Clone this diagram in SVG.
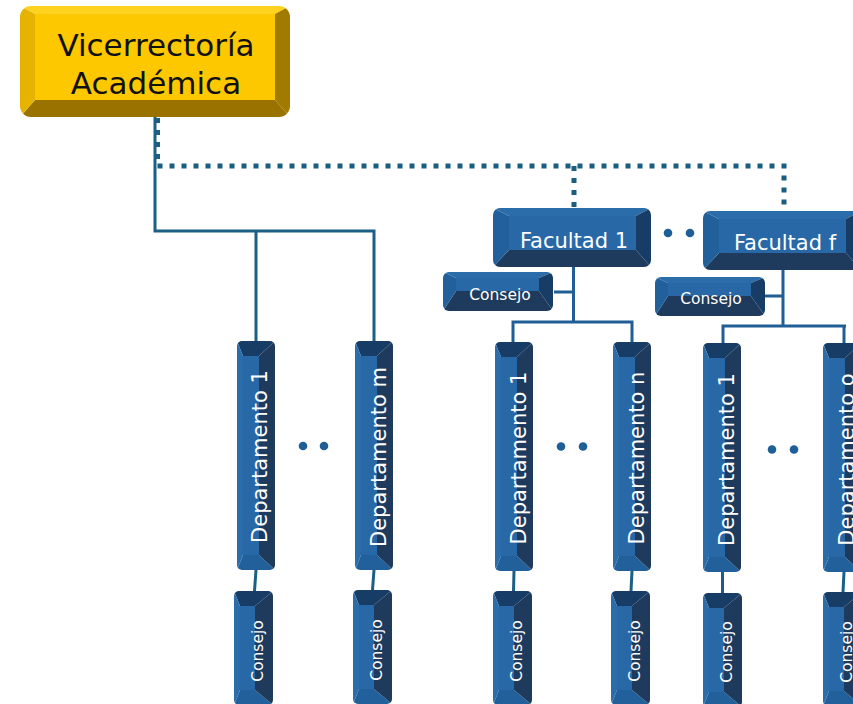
<svg xmlns="http://www.w3.org/2000/svg" xmlns:xlink="http://www.w3.org/1999/xlink" width="853" height="704" viewBox="0 0 853 704">
<style>
.c1{fill:#2b6cab}.c2{fill:#22609b}.c3{fill:#173d66}.c4{fill:#1e3b5d}.cf{fill:#2868a6}
.g1{fill:#ffd21f}.g2{fill:#e6b300}.g3{fill:#a07b00}.g4{fill:#9a7200}.gf{fill:#fdc800}
.t{font-family:"DejaVu Sans",Verdana,sans-serif;fill:#fff;text-anchor:middle}
.tg{font-family:"DejaVu Sans",Verdana,sans-serif;fill:#111;text-anchor:middle;font-size:31px}
.tf{font-size:21px}.tc{font-size:15.5px}
.solid{fill:none;stroke:#1a5f85;stroke-width:3}
.solidb{fill:none;stroke:#215e96;stroke-width:3}
.dot{fill:none;stroke:#1a5f80;stroke-width:5;stroke-dasharray:5 7}
.bul{fill:#1f5f98}
</style>
<defs>
<clipPath id="kG"><rect width="270" height="111" rx="11"/></clipPath>
<clipPath id="kF"><rect width="158" height="59" rx="7"/></clipPath>
<clipPath id="kH"><rect width="110" height="39" rx="6"/></clipPath>
<clipPath id="kD"><rect width="38" height="229" rx="5"/></clipPath>
<clipPath id="kV"><rect width="39" height="114" rx="5"/></clipPath>
<symbol id="gold" viewBox="0 0 270 111" width="270" height="111" overflow="visible">
<g clip-path="url(#kG)">
<polygon class="g1" points="0,0 270,0 255,8 15,8"/>
<polygon class="g4" points="0,111 270,111 255,94 15,94"/>
<polygon class="g2" points="0,0 15,8 15,94 0,111"/>
<polygon class="g3" points="270,0 255,8 255,94 270,111"/>
<rect class="gf" x="15" y="8" width="240" height="86"/>
</g>
</symbol>
<symbol id="fac" viewBox="0 0 158 59" width="158" height="59" overflow="visible">
<g clip-path="url(#kF)">
<polygon class="c1" points="0,0 158,0 143,8 16,8"/>
<polygon class="c4" points="0,59 158,59 143,42 16,42"/>
<polygon class="c2" points="0,0 16,8 16,42 0,59"/>
<polygon class="c3" points="158,0 143,8 143,42 158,59"/>
<rect class="cf" x="16" y="8" width="127" height="34"/>
</g>
</symbol>
<symbol id="consH" viewBox="0 0 110 39" width="110" height="39" overflow="visible">
<g clip-path="url(#kH)">
<polygon class="c1" points="0,0 110,0 96,6 13,6"/>
<polygon class="c4" points="0,39 110,39 96,19 13,19"/>
<polygon class="c2" points="0,0 13,6 13,19 0,39"/>
<polygon class="c3" points="110,0 96,6 96,19 110,39"/>
<rect class="cf" x="13" y="6" width="83" height="13"/>
</g>
</symbol>
<symbol id="dept" viewBox="0 0 38 229" width="38" height="229" overflow="visible">
<g clip-path="url(#kD)">
<polygon class="c3" points="0,0 38,0 22,15 6,15"/>
<polygon class="c2" points="0,229 38,229 22,214 6,214"/>
<polygon class="c1" points="0,0 6,15 6,214 0,229"/>
<polygon class="c4" points="38,0 22,15 22,214 38,229"/>
<rect class="cf" x="6" y="15" width="16" height="199"/>
</g>
</symbol>
<symbol id="consV" viewBox="0 0 39 114" width="39" height="114" overflow="visible">
<g clip-path="url(#kV)">
<polygon class="c3" points="0,0 39,0 21,15 6,15"/>
<polygon class="c2" points="0,114 39,114 21,99 6,99"/>
<polygon class="c1" points="0,0 6,15 6,99 0,114"/>
<polygon class="c4" points="39,0 21,15 21,99 39,114"/>
<rect class="cf" x="6" y="15" width="15" height="84"/>
</g>
</symbol>
</defs>

<g id="connectors">
<path class="dot" d="M157.5,118 V166 H784 V211 M574,166 V208"/>
<path class="solid" d="M155,117 V231 H374 V341 M256,231 V341"/>
<path class="solid" d="M256,570 L254.5,591 M374,570 L372.5,590 M514,571 L513.5,591 M632,571 L631,591 M722.5,572 V593 M844,572 L843,592"/>
<path class="solidb" d="M573.5,267 V322 M513,342 V322 H632 V342 M554,292 H573.5"/>
<path class="solidb" d="M783,269 V326 M723,343 V326 H846 M844,326 V343 M764,296 H783"/>
</g>

<g id="vicerrectoria">
<use xlink:href="#gold" x="20" y="6"/>
<text class="tg" x="156" y="56">Vicerrectoría</text>
<text class="tg" x="156" y="94">Académica</text>
</g>

<g id="facultad1">
<use xlink:href="#fac" x="493" y="208"/>
<text class="t tf" x="574" y="248">Facultad 1</text>
</g>
<g id="facultadf">
<use xlink:href="#fac" x="703" y="211"/>
<text class="t tf" x="785" y="250">Facultad f</text>
</g>
<g id="consejo-f1">
<use xlink:href="#consH" x="443" y="272"/>
<text class="t tc" x="500" y="300">Consejo</text>
</g>
<g id="consejo-ff">
<use xlink:href="#consH" x="655" y="277"/>
<text class="t tc" x="711" y="304">Consejo</text>
</g>

<g id="dep1-a">
<use xlink:href="#dept" x="237" y="341"/>
<text class="t tf" transform="translate(267,456.5) rotate(-90)">Departamento 1</text>
</g>
<g id="depm-a">
<use xlink:href="#dept" x="355" y="341"/>
<text class="t tf" transform="translate(386,457) rotate(-90)">Departamento m</text>
</g>
<g id="dep1-b">
<use xlink:href="#dept" x="495" y="342"/>
<text class="t tf" transform="translate(526,458) rotate(-90)">Departamento 1</text>
</g>
<g id="depn-b">
<use xlink:href="#dept" x="613" y="342"/>
<text class="t tf" transform="translate(644,458) rotate(-90)">Departamento n</text>
</g>
<g id="dep1-c">
<use xlink:href="#dept" x="703" y="343"/>
<text class="t tf" transform="translate(734,459.5) rotate(-90)">Departamento 1</text>
</g>
<g id="depo-c">
<use xlink:href="#dept" x="823" y="343"/>
<text class="t tf" transform="translate(854,459.5) rotate(-90)">Departamento o</text>
</g>

<g id="consejo-d1a">
<use xlink:href="#consV" x="234" y="591"/>
<text class="t tc" transform="translate(262.5,651) rotate(-90)">Consejo</text>
</g>
<g id="consejo-dma">
<use xlink:href="#consV" x="353" y="590"/>
<text class="t tc" transform="translate(381.5,650) rotate(-90)">Consejo</text>
</g>
<g id="consejo-d1b">
<use xlink:href="#consV" x="493" y="591"/>
<text class="t tc" transform="translate(521.5,651) rotate(-90)">Consejo</text>
</g>
<g id="consejo-dnb">
<use xlink:href="#consV" x="611" y="591"/>
<text class="t tc" transform="translate(639.5,651) rotate(-90)">Consejo</text>
</g>
<g id="consejo-d1c">
<use xlink:href="#consV" x="703" y="593"/>
<text class="t tc" transform="translate(731.5,652) rotate(-90)">Consejo</text>
</g>
<g id="consejo-doc">
<use xlink:href="#consV" x="823" y="592"/>
<text class="t tc" transform="translate(851.5,652) rotate(-90)">Consejo</text>
</g>

<g id="ellipses">
<circle class="bul" cx="303" cy="446" r="4.3"/><circle class="bul" cx="324" cy="446" r="4.3"/>
<circle class="bul" cx="561" cy="446.5" r="4.3"/><circle class="bul" cx="583" cy="446.5" r="4.3"/>
<circle class="bul" cx="772" cy="449.5" r="4.3"/><circle class="bul" cx="794" cy="449.5" r="4.3"/>
<circle class="bul" cx="668" cy="233" r="4.3"/><circle class="bul" cx="690" cy="233" r="4.3"/>
</g>
</svg>
